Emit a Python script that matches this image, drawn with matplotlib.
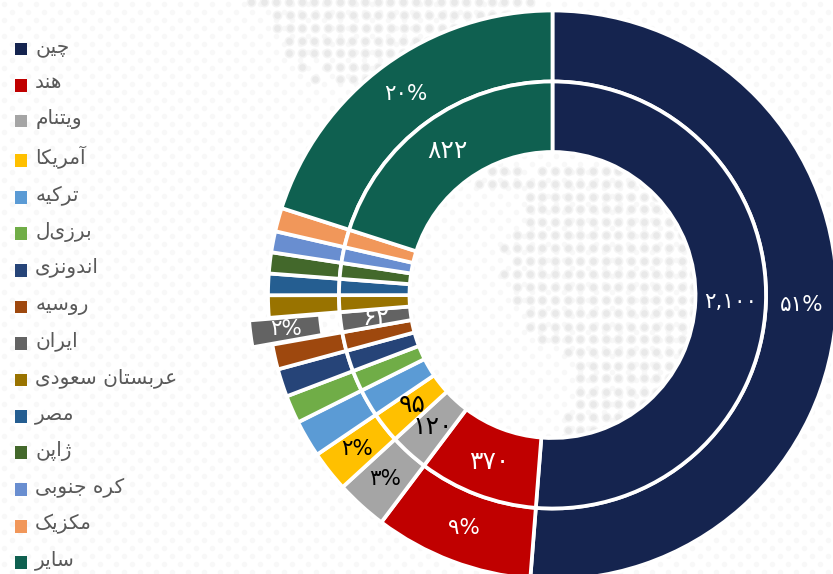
import matplotlib
matplotlib.use("Agg")
import numpy as np
import matplotlib.pyplot as plt
from matplotlib.patches import Patch, Rectangle
from matplotlib.legend_handler import HandlerPatch

# ---- data ----
countries = ["چین", "هند", "ویتنام", "آمریکا", "ترکیه", "برزیل", "اندونزی", "روسیه",
             "ایران", "عربستان سعودی", "مصر", "ژاپن", "کره جنوبی", "مکزیک", "سایر"]
values = [2100, 370, 120, 95, 86, 65, 65, 58, 62, 52, 50, 49, 49, 55, 822]
inner_labels = ["۲,۱۰۰", "۳۷۰", "۱۲۰", "۹۵", "", "", "", "", "۶۲", "", "", "", "", "", "۸۲۲"]
outer_labels = ["۵۱%", "۹%", "۳%", "۲%", "", "", "", "", "۲%", "", "", "", "", "", "۲۰%"]
colors = ["#15244F", "#C00000", "#A5A5A5", "#FFC000", "#5B9BD5", "#70AD47", "#264478", "#9E480E",
          "#636363", "#997300", "#255E91", "#43682B", "#698ED0", "#F1975A", "#0F6050"]
label_colors = ["white", "white", "black", "black", "white", "white", "white", "white",
                "white", "white", "white", "white", "white", "white", "white"]
outer_explode = [0, 0, 0, 0, 0, 0, 0, 0, 20, 0, 0, 0, 0, 0, 0]

# decorative map backdrop: row -> first column index of the dotted region
map_rows_hole = {171: 0, 184: -1, 197: 3, 209: 3, 222: 3, 235: 2, 248: 1, 261: 2, 274: 1, 287: 2,
                 300: 2, 313: 3, 327: 3, 339: 4, 352: 6, 366: 7, 378: 7, 392: 7, 404: 7, 417: 6, 430: 6}
map_rows_top = {2: 251, 15: 277, 28: 277, 41: 289, 53: 289, 67: 302, 79: 315}

# ---- Persian shaping (matplotlib draws glyphs in the given order, without joining) ----
FORMS = {
    "ا": (0xFE8D, 0xFE8E), "آ": (0xFE81, 0xFE82), "د": (0xFEA9, 0xFEAA), "ر": (0xFEAD, 0xFEAE),
    "ز": (0xFEAF, 0xFEB0), "ژ": (0xFB8A, 0xFB8B), "و": (0xFEED, 0xFEEE),
    "ب": (0xFE8F, 0xFE90, 0xFE91, 0xFE92), "پ": (0xFB56, 0xFB57, 0xFB58, 0xFB59),
    "ت": (0xFE95, 0xFE96, 0xFE97, 0xFE98), "ج": (0xFE9D, 0xFE9E, 0xFE9F, 0xFEA0),
    "چ": (0xFB7A, 0xFB7B, 0xFB7C, 0xFB7D), "س": (0xFEB1, 0xFEB2, 0xFEB3, 0xFEB4),
    "ص": (0xFEB9, 0xFEBA, 0xFEBB, 0xFEBC), "ع": (0xFEC9, 0xFECA, 0xFECB, 0xFECC),
    "ک": (0xFB8E, 0xFB8F, 0xFB90, 0xFB91), "م": (0xFEE1, 0xFEE2, 0xFEE3, 0xFEE4),
    "ن": (0xFEE5, 0xFEE6, 0xFEE7, 0xFEE8), "ه": (0xFEE9, 0xFEEA, 0xFEEB, 0xFEEC),
    "ی": (0xFBFC, 0xFBFD, 0xFBFE, 0xFBFF),
}


def shape(text):
    out = []
    for i, ch in enumerate(text):
        if ch not in FORMS:
            out.append(ch)
            continue
        f = FORMS[ch]
        prev_joins = i > 0 and text[i - 1] in FORMS and len(FORMS[text[i - 1]]) == 4
        next_joins = i + 1 < len(text) and text[i + 1] in FORMS and len(f) == 4
        if prev_joins and next_joins:
            cp = f[3]
        elif next_joins:
            cp = f[2]
        elif prev_joins:
            cp = f[1]
        else:
            cp = f[0]
        out.append(chr(cp))
    return "".join(reversed(out))


plt.rcParams["font.family"] = ["DejaVu Sans"]
W, H = 833, 574
fig = plt.figure(figsize=(W / 100, H / 100), dpi=100, facecolor="white")
ax = fig.add_axes([0, 0, 1, 1])


def py(y):
    return H - np.asarray(y, dtype=float)


# backdrop lattice
lx, ly = [], []
for j, y in enumerate(np.arange(0, H + 8, 8.0)):
    xs = np.arange(4 + (j % 2) * 8, W + 8, 16.0)
    lx.extend(xs)
    ly.extend([y + 4] * len(xs))
ax.scatter(lx, py(ly), s=16, color="#F8F8F8", linewidths=0, zorder=0)

# backdrop map dots
STEP = 12.66
mx, my = [], []
for y, k0 in map_rows_hole.items():
    for k in range(k0, 20):
        if y == 171 and k == 3:
            continue
        mx.append(491.7 + STEP * k)
        my.append(y)
for y, x0 in map_rows_top.items():
    x = x0
    while x < 532:
        if not (y == 67 and abs(x - 314) < 5) and not (y == 79 and abs(x - 327) < 5):
            mx.append(x)
            my.append(y)
        x += STEP
ax.scatter(mx, py(my), s=50, color="#F4F4F4", linewidths=0, zorder=0.1)
ax.scatter(mx, py(my), s=22, color="#E9E9E9", linewidths=0, zorder=0.2)

# donuts
CX, CY = 552.5, py(295)
R_OUT, R_MID, R_IN = 284.5, 213.5, 143
wp = dict(edgecolor="white", linewidth=2.7)
outer, _ = ax.pie(values, radius=R_OUT, center=(CX, CY), colors=colors, startangle=90,
                  counterclock=False, explode=outer_explode,
                  wedgeprops=dict(width=R_OUT - R_MID, **wp), frame=True)
inner, _ = ax.pie(values, radius=R_MID, center=(CX, CY), colors=colors, startangle=90,
                  counterclock=False, wedgeprops=dict(width=R_MID - R_IN, **wp), frame=True)


def label_ring(wedges, labels, rmid):
    for w, lab, col in zip(wedges, labels, label_colors):
        if not lab:
            continue
        a = np.deg2rad((w.theta1 + w.theta2) / 2)
        size = 15.5 if ("%" in lab or "," in lab) else 18
        ax.text(w.center[0] + rmid * np.cos(a), w.center[1] + rmid * np.sin(a), lab,
                ha="center", va="center", color=col, fontsize=size, zorder=5)


label_ring(outer, outer_labels, (R_OUT + R_MID) / 2)
label_ring(inner, inner_labels, (R_MID + R_IN) / 2)


# legend
def square_lower(legend, orig_handle, xdescent, ydescent, width, height, fontsize):
    return Rectangle((-xdescent, -ydescent - 2.9), width, height)


handles = [Patch(facecolor=c, edgecolor="none") for c in colors]
leg = ax.legend(handles, [shape(c) for c in countries], loc="upper left",
                bbox_to_anchor=(15, py(37)), bbox_transform=ax.transData,
                frameon=False, fontsize=14.5, labelcolor="#595959",
                handlelength=0.6, handleheight=0.6, handletextpad=0.4,
                labelspacing=0.825, borderpad=0, borderaxespad=0,
                handler_map={Patch: HandlerPatch(patch_func=square_lower)})

ax.set_xlim(0, W)
ax.set_ylim(0, H)
ax.set_aspect("auto")
ax.axis("off")
fig.savefig("out.png", dpi=100, facecolor="white")
